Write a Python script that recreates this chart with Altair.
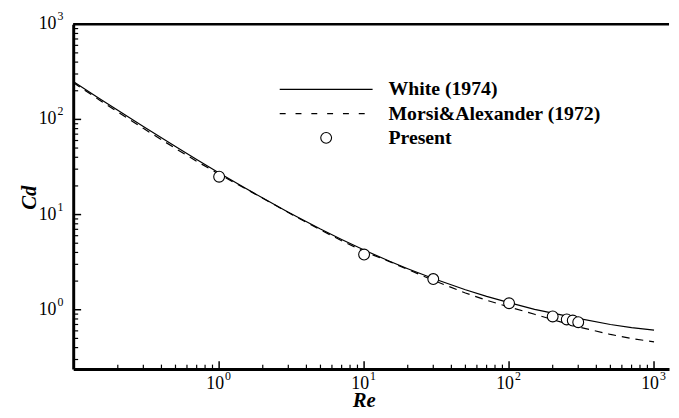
import altair as alt
import pandas as pd

# ---- data ----
re_white = [0.0985, 0.15, 0.2, 0.3, 0.5, 0.7, 1, 1.5, 2, 3, 5, 7, 10, 15, 20, 30,
            50, 70, 100, 150, 200, 300, 500, 700, 1000]
cd_white = [250, 164.7, 124.5, 84.3, 51.9, 37.95, 27.4, 19.1, 14.9, 10.6, 7.05, 5.47,
            4.24, 3.23, 2.70, 2.13, 1.62, 1.38, 1.19, 1.01, 0.92, 0.81, 0.70, 0.65, 0.61]
re_morsi = [0.0985, 0.15, 0.2, 0.3, 0.5, 0.7, 1, 1.5, 2, 3, 5, 7, 10, 15, 20, 30,
            50, 70, 100, 150, 200, 300, 500, 700, 1000]
cd_morsi = [244, 159.2, 119.6, 80.5, 49.5, 36.35, 26.5, 18.93, 14.83, 10.51, 6.90, 5.31,
            4.10, 3.20, 2.65, 2.04, 1.50, 1.257, 1.07, 0.896, 0.787, 0.661, 0.55, 0.499, 0.46]
re_present = [1, 10, 30, 100, 200, 250, 275, 300]
cd_present = [25, 3.8, 2.1, 1.17, 0.85, 0.79, 0.77, 0.74]

major_ticks = [1, 10, 100, 1000]
tick_exponents = ["0", "1", "2", "3"]
x_minor = [m * 10 ** k for k in (-1, 0, 1, 2) for m in range(2, 10)]
y_minor = [m * 10 ** k for k in (-1, 0, 1, 2) for m in range(2, 10) if m * 10 ** k > 0.238]

legend_labels = ["White (1974)", "Morsi&Alexander (1972)", "Present"]

W, H = 603, 349
FONT = "Liberation Serif"

xs = alt.Scale(type="log", domain=[0.0985, 1269], nice=False)
ys = alt.Scale(type="log", domain=[0.238, 1000], nice=False)

xaxis = alt.Axis(orient="bottom", domain=True, domainColor="black", domainWidth=3,
                 ticks=False, labels=False, grid=False, title="Re",
                 titleFont=FONT, titleFontStyle="italic", titleFontWeight="bold",
                 titleFontSize=21, titleColor="black", titleX=294, titleY=32,
                 titleAlign="center", titleBaseline="middle")
yaxis = alt.Axis(orient="left", domain=True, domainColor="black", domainWidth=3,
                 ticks=False, labels=False, grid=False, title="Cd",
                 titleFont=FONT, titleFontStyle="italic", titleFontWeight="bold",
                 titleFontSize=21, titleColor="black", titleAngle=270,
                 titleX=-44, titleY=175, titleAlign="center", titleBaseline="middle")


def X(f):
    return alt.X(f, type="quantitative", scale=xs, axis=xaxis)


def Y(f):
    return alt.Y(f, type="quantitative", scale=ys, axis=yaxis)


white = alt.Chart(pd.DataFrame({"re": re_white, "cd": cd_white})).mark_line(
    color="black", strokeWidth=1.2).encode(x=X("re"), y=Y("cd"))
morsi = alt.Chart(pd.DataFrame({"re": re_morsi, "cd": cd_morsi})).mark_line(
    color="black", strokeWidth=1.2, strokeDash=[8, 6]).encode(x=X("re"), y=Y("cd"))
present = alt.Chart(pd.DataFrame({"re": re_present, "cd": cd_present})).mark_point(
    shape="circle", fill="white", stroke="black", strokeWidth=1.1, size=120,
    opacity=1, fillOpacity=1).encode(x=X("re"), y=Y("cd"))

# inward ticks
xt_major = alt.Chart(pd.DataFrame({"v": major_ticks})).mark_rule(
    color="black", strokeWidth=1.5).encode(x=X("v"), y=alt.value(H), y2=alt.value(H - 8))
xt_minor = alt.Chart(pd.DataFrame({"v": x_minor})).mark_rule(
    color="black", strokeWidth=1.2).encode(x=X("v"), y=alt.value(H), y2=alt.value(H - 4.5))
yt_major = alt.Chart(pd.DataFrame({"v": major_ticks})).mark_rule(
    color="black", strokeWidth=1.5).encode(y=Y("v"), x=alt.value(0), x2=alt.value(8))
yt_minor = alt.Chart(pd.DataFrame({"v": y_minor})).mark_rule(
    color="black", strokeWidth=1.2).encode(y=Y("v"), x=alt.value(0), x2=alt.value(5))

# tick labels 10^k
lab = pd.DataFrame({"v": major_ticks, "e": tick_exponents})
xl_base = alt.Chart(lab).mark_text(
    text="10", font=FONT, fontSize=18, align="right", baseline="middle", dx=5,
    color="black").encode(x=X("v"), y=alt.value(H + 15))
xl_exp = alt.Chart(lab).mark_text(
    font=FONT, fontSize=12, align="left", baseline="middle", dx=6,
    color="black").encode(x=X("v"), y=alt.value(H + 7), text="e:N")
yl_base = alt.Chart(lab).mark_text(
    text="10", font=FONT, fontSize=18, align="right", baseline="middle",
    color="black").encode(y=Y("v"), x=alt.value(-17))
yl_exp = alt.Chart(lab).mark_text(
    font=FONT, fontSize=12, align="left", baseline="middle", dy=-8, dx=1,
    color="black").encode(y=Y("v"), x=alt.value(-17), text="e:N")

# top frame line
one = pd.DataFrame({"a": [0]})
top = alt.Chart(one).mark_rule(color="black", strokeWidth=2.5).encode(
    x=alt.value(0), x2=alt.value(W), y=alt.value(0))

# legend
leg_y = [66, 90.5, 115]
leg_white = alt.Chart(one).mark_rule(color="black", strokeWidth=1.2).encode(
    x=alt.value(209), x2=alt.value(303), y=alt.value(leg_y[0]))
leg_morsi = alt.Chart(one).mark_rule(color="black", strokeWidth=1.2, strokeDash=[6, 10]).encode(
    x=alt.value(209), x2=alt.value(303), y=alt.value(leg_y[1]))
leg_pt = alt.Chart(one).mark_point(
    shape="circle", fill="white", stroke="black", strokeWidth=1.1, size=120,
    opacity=1, fillOpacity=1).encode(x=alt.value(256), y=alt.value(leg_y[2]))
leg_text = alt.Chart(pd.DataFrame({"t": legend_labels, "y": leg_y})).mark_text(
    font=FONT, fontSize=20, fontWeight="bold", align="left", baseline="middle",
    color="black").encode(x=alt.value(319), y=alt.Y("y:Q", scale=None), text="t:N")

chart = alt.layer(
    white, morsi, present, xt_major, xt_minor, yt_major, yt_minor,
    xl_base, xl_exp, yl_base, yl_exp, top, leg_white, leg_morsi, leg_pt, leg_text
).properties(
    width=W, height=H,
    padding={"left": 66, "top": 14, "right": 2, "bottom": 40},
    autosize=alt.AutoSizeParams(type="none"),
).configure_view(stroke=None)

chart.save("out.html", embed_options={"renderer": "svg", "actions": False})
